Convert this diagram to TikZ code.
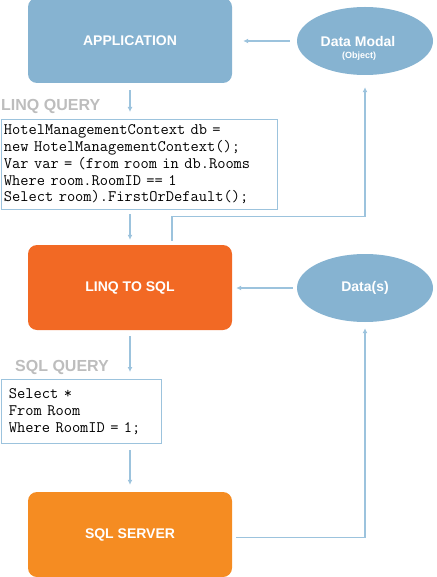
\documentclass[tikz,border=0pt]{standalone}
\usepackage{fontspec}
\setmainfont{Liberation Sans}
\usetikzlibrary{arrows.meta,shapes.geometric}
\definecolor{appblue}{HTML}{86B3D1}
\definecolor{lineblue}{HTML}{9CC3DD}
\definecolor{linqorange}{HTML}{F26924}
\definecolor{serverorange}{HTML}{F58C22}
\definecolor{labelgray}{HTML}{BDBDBD}
\tikzset{
  block/.style={rounded corners=9pt, minimum width=204pt, minimum height=85pt, text=white, font=\bfseries\fontsize{14}{16}\selectfont},
  blob/.style={ellipse, fill=appblue, minimum width=136pt, minimum height=68pt, text=white, font=\bfseries\fontsize{14}{16}\selectfont},
  codebox/.style={draw=lineblue, line width=1pt, anchor=north west, align=left, inner xsep=3pt, font=\ttfamily\fontsize{16}{16.7}\selectfont},
  heading/.style={text=labelgray, font=\bfseries\fontsize{16}{18}\selectfont, anchor=west, inner sep=0pt},
  flow/.style={draw=lineblue, line width=1.2pt, -{Latex[length=5pt,width=5pt]}}
}
\begin{document}
\begin{tikzpicture}[x=1pt,y=-1pt]
   \useasboundingbox (0,0) rectangle (436,577);
   \node[block, fill=appblue] (app) at (130,40.5) {APPLICATION};
   \node[blob] (model) at (365,41) {\hspace*{-14pt}Data Modal};
   \node[text=white, font=\bfseries\fontsize{9}{10}\selectfont] (modelsub) at (359,56) {(Object)};
   \node[heading] (linqhead) at (1,106) {LINQ QUERY};
   \node[codebox, text width=270pt, minimum height=90pt] (linqcode) at (0.5,119)
      {HotelManagementContext db =\\new HotelManagementContext();\\Var var = (from room in db.Rooms\\Where room.RoomID == 1\\Select room).FirstOrDefault();};
   \node[block, fill=linqorange] (l2s) at (130,287.5) {LINQ TO SQL};
   \node[blob] (data) at (365,288) {Data(s)};
   \node[heading] (sqlhead) at (15,367) {SQL QUERY};
   \node[codebox, text width=144pt, inner xsep=8pt, minimum height=64pt] (sqlcode) at (0.5,379)
      {Select *\\From Room\\Where RoomID = 1;};
   \node[block, fill=serverorange] (server) at (130,534.5) {SQL SERVER};

   \draw[flow, shorten <=7pt, shorten >=11pt] (model.west) -- (model.west -| app.east);
   \draw[flow, shorten <=4pt, shorten >=4pt] (data.west) -- (data.west -| l2s.east);
   \draw[flow, shorten <=7pt, shorten >=7pt] (app.south) -- (app.south |- linqcode.north);
   \draw[flow, shorten <=4pt, shorten >=5pt] (l2s.north |- linqcode.south) -- (l2s.north);
   \draw[flow, shorten <=4pt, shorten >=12pt] ([xshift=42pt]l2s.north) -- ++(0,-28) -| (model.south);
   \draw[flow, shorten <=6pt, shorten >=7pt] (l2s.south) -- (l2s.south |- sqlcode.north);
   \draw[flow, shorten <=6pt, shorten >=7pt] (sqlcode.south -| server.north) -- (server.north);
   \draw[flow, shorten <=4pt, shorten >=6pt] ([yshift=-3pt]server.east) -| (data.south);
\end{tikzpicture}
\end{document}
